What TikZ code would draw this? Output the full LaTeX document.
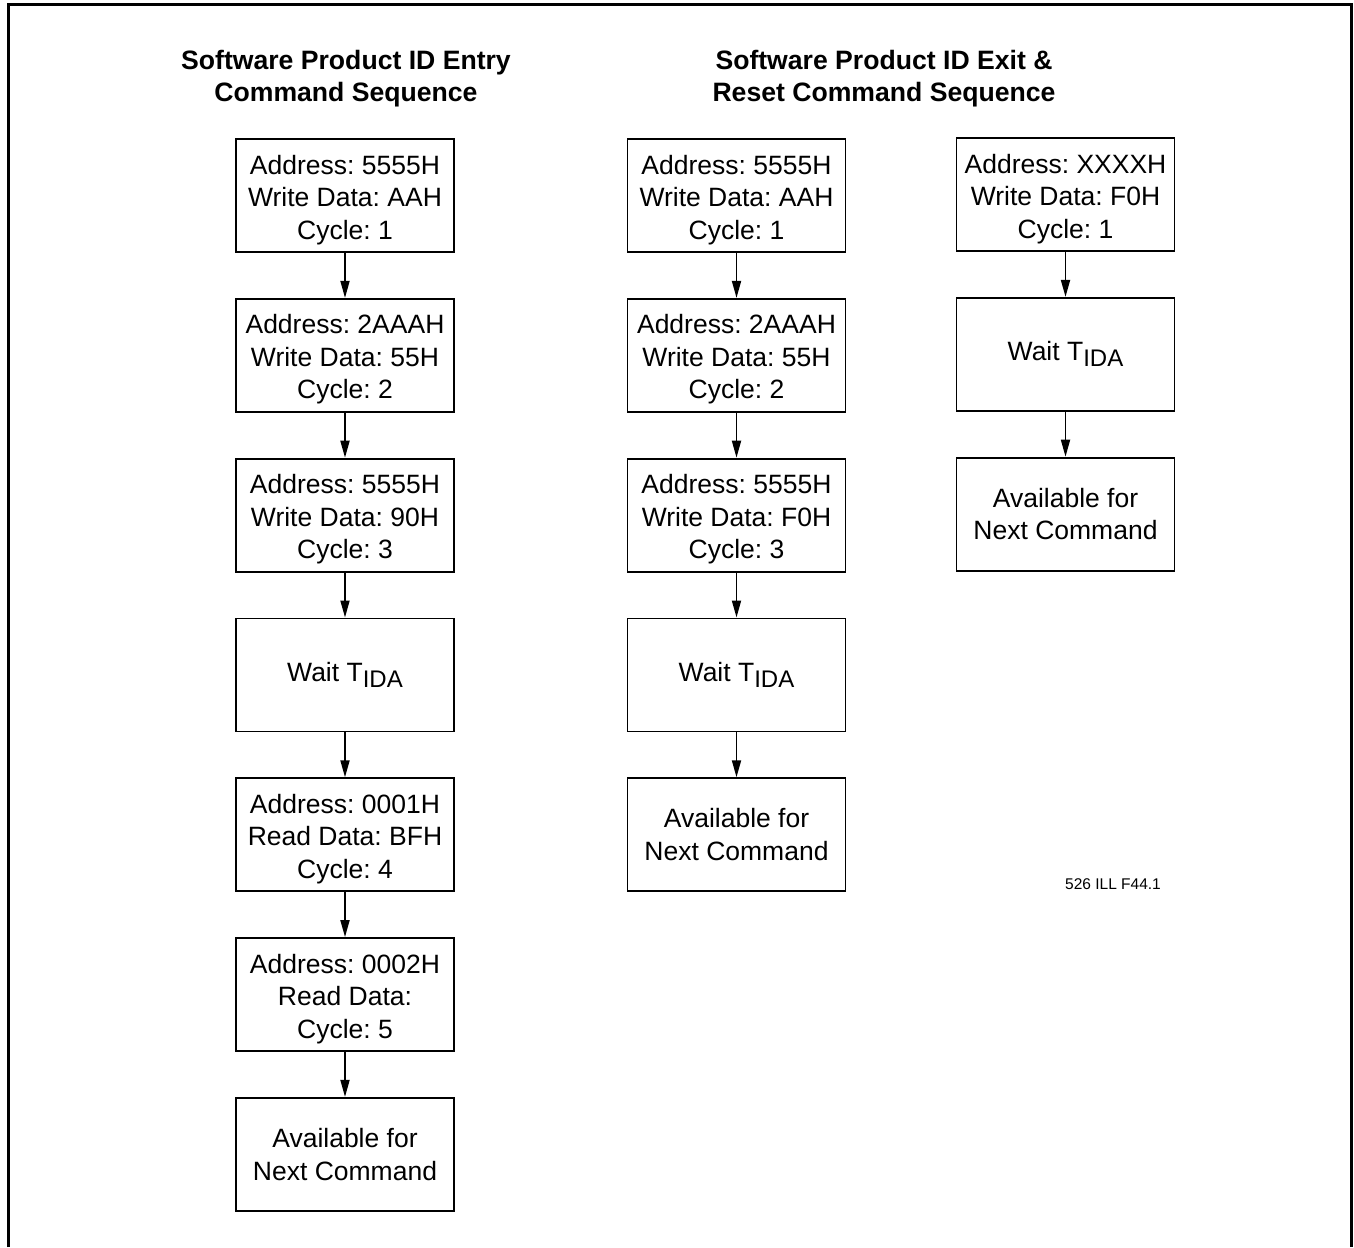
\documentclass[tikz,border=0pt]{standalone}
\usepackage{fontspec}
\setmainfont{Liberation Sans}
\frenchspacing
\usetikzlibrary{arrows.meta}
\begin{document}
\begin{tikzpicture}[x=1pt,y=-1pt,
  box/.style={draw, line width=1.8pt, minimum width=218pt, minimum height=113pt,
    inner sep=0pt, align=center, font=\fontsize{26.5}{32.5}\selectfont},
  flow/.style={line width=1.8pt, -{Triangle[length=17pt,width=9pt]}},
  ttl/.style={align=center, inner sep=0pt, font=\bfseries\fontsize{26.6}{32}\selectfont},
  note/.style={inner sep=0pt, font=\fontsize{15.5}{18}\selectfont},
]
\useasboundingbox (0,0) rectangle (1354,1247);
\draw[line width=3pt] (8.5,1247) -- (8.5,5) -- (1351,5) -- (1351,1247);
\newcommand{\tida}{Wait T\raisebox{-6pt}{\fontsize{24}{28}\selectfont IDA}}
\newcommand{\lowr}{\rule{0pt}{27.5pt}}
% titles
\node[ttl] (t1) at (346,78.5) {Software Product ID Entry\\Command Sequence};
\node[ttl] (t2) at (884,78.5) {Software Product ID Exit \&\\Reset Command Sequence};
% column 1
\node[box] (a1) at (345,195.5) {\lowr Address: 5555H\\Write Data: AAH\\Cycle: 1};
\node[box] (a2) at (345,355.3) {\lowr Address: 2AAAH\\Write Data: 55H\\Cycle: 2};
\node[box] (a3) at (345,515.1) {\lowr Address: 5555H\\Write Data: 90H\\Cycle: 3};
\node[box] (a4) at (345,674.9) {\tida};
\node[box] (a5) at (345,834.7) {\lowr Address: 0001H\\Read Data: BFH\\Cycle: 4};
\node[box] (a6) at (345,994.5) {\lowr Address: 0002H\\Read Data:\\Cycle: 5};
\node[box] (a7) at (345,1154.3) {Available for\\Next Command};
% column 2
\node[box] (b1) at (736.5,195.5) {\lowr Address: 5555H\\Write Data: AAH\\Cycle: 1};
\node[box] (b2) at (736.5,355.3) {\lowr Address: 2AAAH\\Write Data: 55H\\Cycle: 2};
\node[box] (b3) at (736.5,515.1) {\lowr Address: 5555H\\Write Data: F0H\\Cycle: 3};
\node[box] (b4) at (736.5,674.9) {\tida};
\node[box] (b5) at (736.5,834.7) {Available for\\Next Command};
% column 3
\node[box] (c1) at (1065.5,194.5) {\lowr Address: XXXXH\\Write Data: F0H\\Cycle: 1};
\node[box] (c2) at (1065.5,354.3) {\tida};
\node[box] (c3) at (1065.5,514.1) {Available for\\Next Command};
% note
\node[note] (n1) at (1113,884) {526 ILL F44.1};
% arrows
\foreach \u/\v in {a1/a2,a2/a3,a3/a4,a4/a5,a5/a6,a6/a7,b1/b2,b2/b3,b3/b4,b4/b5,c1/c2,c2/c3}
  \draw[flow] (\u.south) -- (\v.north);
\end{tikzpicture}
\end{document}
